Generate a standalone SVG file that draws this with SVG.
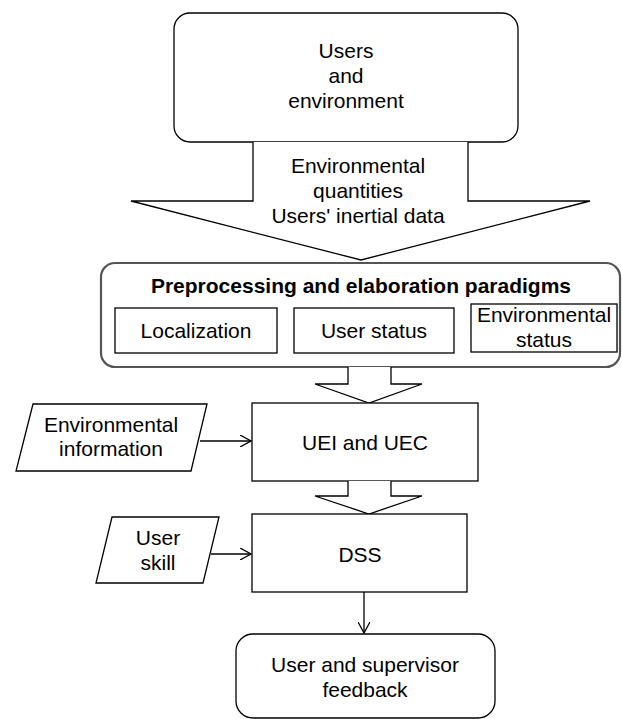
<svg xmlns="http://www.w3.org/2000/svg" width="622" height="719" viewBox="0 0 622 719">
<defs>
<style>
.s{fill:#fff;stroke:#000;stroke-width:1.3}
.g{fill:#fff;stroke:#555;stroke-width:2.2}
.t{font-family:"Liberation Sans",Arial,sans-serif;font-size:21px;fill:#000;text-anchor:middle}
.b{font-weight:bold}
.c{fill:none;stroke:#000;stroke-width:1.3}
</style>
<marker id="ah" viewBox="0 0 12 12" refX="11" refY="6" markerWidth="12" markerHeight="12" markerUnits="userSpaceOnUse" orient="auto">
<path d="M0,0 L11,6 L0,12" fill="none" stroke="#000" stroke-width="1.3"/>
</marker>
</defs>
<rect width="622" height="719" fill="#fff"/>
<g id="users-env">
<rect class="s" x="174" y="13" width="344" height="129" rx="16"/>
<text class="t" x="346" y="58">Users</text>
<text class="t" x="346" y="83">and</text>
<text class="t" x="346" y="108">environment</text>
</g>
<g id="data-arrow">
<path class="s" d="M253,142 L253,201 L131,201 L361,260 L590,201 L468,201 L468,142"/>
<text class="t" x="358" y="173">Environmental</text>
<text class="t" x="358" y="198">quantities</text>
<text class="t" x="358" y="223">Users' inertial data</text>
</g>
<g id="preprocessing">
<rect class="g" x="101" y="263" width="519" height="104" rx="14"/>
<text class="t b" x="361" y="293">Preprocessing and elaboration paradigms</text>
<g id="localization">
<rect class="s" x="115" y="308" width="162" height="45"/>
<text class="t" x="196" y="338">Localization</text>
</g>
<g id="user-status">
<rect class="s" x="294" y="308" width="160" height="45"/>
<text class="t" x="374" y="338">User status</text>
</g>
<g id="env-status">
<rect class="s" x="471" y="304" width="146" height="48"/>
<text class="t" x="544" y="322">Environmental</text>
<text class="t" x="544" y="347">status</text>
</g>
</g>
<g id="arrow1">
<path class="s" d="M348,367 L348,384 L315,384 L369,403 L422,384 L391,384 L391,367"/>
</g>
<g id="uei-uec">
<rect class="s" x="252" y="403" width="226" height="78"/>
<text class="t" x="365" y="450">UEI and UEC</text>
</g>
<g id="arrow2">
<path class="s" d="M348,481 L348,496 L315,496 L369,514 L422,496 L391,496 L391,481"/>
</g>
<g id="env-info">
<polygon class="s" points="33,404 207,404 191,471 16,471"/>
<text class="t" x="111" y="432">Environmental</text>
<text class="t" x="111" y="456">information</text>
</g>
<g id="dss">
<rect class="s" x="252" y="514" width="215" height="78"/>
<text class="t" x="360" y="562">DSS</text>
</g>
<g id="user-skill">
<polygon class="s" points="112,517 219,517 203,583 96,583"/>
<text class="t" x="158" y="545">User</text>
<text class="t" x="158" y="570">skill</text>
</g>
<g id="feedback">
<rect class="s" x="236" y="634" width="259" height="84" rx="17"/>
<text class="t" x="365" y="672">User and supervisor</text>
<text class="t" x="365" y="697">feedback</text>
</g>
<g id="connectors">
<line class="c" x1="200" y1="441" x2="251" y2="441" marker-end="url(#ah)"/>
<line class="c" x1="211" y1="554" x2="251" y2="554" marker-end="url(#ah)"/>
<line class="c" x1="364" y1="592" x2="364" y2="633" marker-end="url(#ah)"/>
</g>
</svg>
